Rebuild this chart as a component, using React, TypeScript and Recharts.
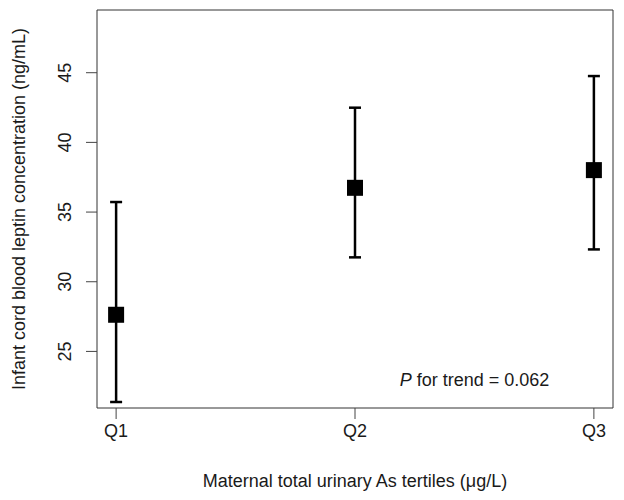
import React from "react";
import {
  ErrorBar,
  ReferenceArea,
  ReferenceDot,
  Scatter,
  ScatterChart,
  XAxis,
  YAxis
} from "recharts";

const tertiles = ["Q1", "Q2", "Q3"];
const positions = [1, 2, 3];
const means = [27.63, 36.74, 38.01];
const lowerCI = [21.37, 31.75, 32.32];
const upperCI = [35.72, 42.49, 44.76];
const yTicks = [25, 30, 35, 40, 45];

const xDomain = [0.92, 3.08];
const yDomain = [20.94, 49.5];

const FONT = '"Liberation Sans", Arial, Helvetica, sans-serif';
const INK = "#1a1a1a";

const rows = positions.map((x, i) => ({
  x,
  mean: means[i],
  err: [means[i] - lowerCI[i], upperCI[i] - means[i]]
}));

function SquareMark(props: any) {
  const { cx, cy } = props;
  return <rect x={cx - 8} y={cy - 8} width={16} height={16} fill="#000" />;
}

function YTick(props: any) {
  const { x, y, payload } = props;
  const bx = x - 13;
  return (
    <text
      x={bx}
      y={y}
      transform={`rotate(-90, ${bx}, ${y})`}
      textAnchor="middle"
      fontSize={18}
      fontFamily={FONT}
      fill={INK}
    >
      {payload.value}
    </text>
  );
}

function XTick(props: any) {
  const { x, y, payload } = props;
  return (
    <text x={x} y={y + 16} textAnchor="middle" fontSize={18} fontFamily={FONT} fill={INK}>
      {tertiles[payload.value - 1]}
    </text>
  );
}

function TrendLabel(props: any) {
  const { viewBox } = props;
  const cx = viewBox.x + (viewBox.width || 0) / 2;
  const cy = viewBox.y + (viewBox.height || 0) / 2;
  return (
    <text x={cx} y={cy} textAnchor="middle" fontSize={18} fontFamily={FONT} fill={INK}>
      <tspan fontStyle="italic">P</tspan> for trend = 0.062
    </text>
  );
}

export default function App() {
  return (
    <div style={{ position: "absolute", left: 0, top: 0, background: "#fff" }}>
      <ScatterChart
        width={624}
        height={500}
        margin={{ top: 10, right: 11, bottom: 42, left: 37 }}
      >
        <XAxis
          type="number"
          dataKey="x"
          domain={xDomain}
          ticks={positions}
          allowDataOverflow
          height={50}
          tickSize={11}
          tickLine={{ stroke: "#444" }}
          axisLine={false}
          tick={<XTick />}
          label={{
            content: () => (
              <text x={355} y={487} textAnchor="middle" fontSize={18} fontFamily={FONT} fill={INK}>
                Maternal total urinary As tertiles (μg/L)
              </text>
            )
          }}
        />
        <YAxis
          type="number"
          dataKey="mean"
          domain={yDomain}
          ticks={yTicks}
          allowDataOverflow
          width={60}
          tickSize={11}
          tickLine={{ stroke: "#444" }}
          axisLine={false}
          tick={<YTick />}
          label={{
            content: () => (
              <text
                x={25}
                y={209}
                transform="rotate(-90, 25, 209)"
                textAnchor="middle"
                fontSize={18}
                fontFamily={FONT}
                fill={INK}
              >
                Infant cord blood leptin concentration (ng/mL)
              </text>
            )
          }}
        />
        <ReferenceArea
          x1={xDomain[0]}
          x2={xDomain[1]}
          y1={yDomain[0]}
          y2={yDomain[1]}
          fill="none"
          stroke="#333"
          strokeWidth={1}
        />
        <Scatter data={rows} shape={<SquareMark />} isAnimationActive={false}>
          <ErrorBar
            dataKey="err"
            direction="y"
            width={6}
            stroke="#000"
            strokeWidth={2.5}
            isAnimationActive={false}
          />
        </Scatter>
        <ReferenceDot
          x={2.5}
          y={22.55}
          r={0}
          fill="none"
          stroke="none"
          label={{ content: TrendLabel }}
        />
      </ScatterChart>
    </div>
  );
}
